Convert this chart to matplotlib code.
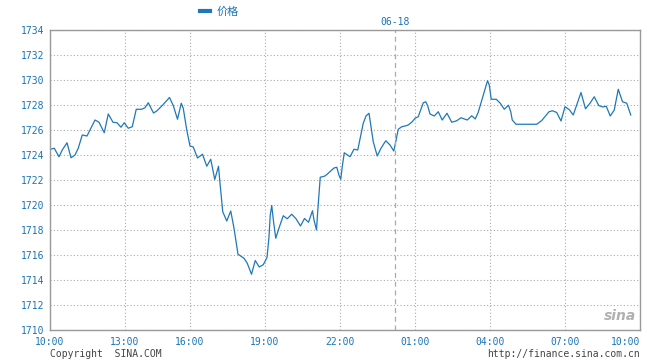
import matplotlib
matplotlib.use("Agg")
import matplotlib.pyplot as plt
from matplotlib.lines import Line2D

# x position in axis units (hours from the 10:00 tick, as laid out on the chart)
hours = [0.0, 0.17, 0.36, 0.49, 0.68, 0.84, 1.0, 1.13, 1.29, 1.48, 1.8, 1.96, 2.17, 2.33,
         2.52, 2.68, 2.84, 2.97, 3.13, 3.29, 3.45, 3.67, 3.8, 3.93, 4.14, 4.27, 4.51, 4.78,
         4.93, 5.1, 5.25, 5.33, 5.47, 5.6, 5.73, 5.9, 6.1, 6.27, 6.43, 6.59, 6.74, 6.8,
         6.91, 7.07, 7.23, 7.36, 7.52, 7.76, 7.89, 8.06, 8.21, 8.37, 8.53, 8.68, 8.76, 8.81,
         8.87, 8.93, 9.03, 9.17, 9.33, 9.49, 9.67, 9.84, 10.02, 10.18, 10.34, 10.5, 10.56,
         10.66, 10.71, 10.81, 11.0, 11.13, 11.36, 11.47, 11.56, 11.63, 11.69, 11.77, 12.0,
         12.16, 12.31, 12.4, 12.53, 12.64, 12.76, 12.87, 12.93, 13.09, 13.24, 13.43, 13.6,
         13.75, 13.83, 13.93, 14.07, 14.2, 14.33, 14.49, 14.6, 14.73, 14.87, 14.93, 15.03,
         15.11, 15.2, 15.37, 15.53, 15.69, 15.88, 16.07, 16.27, 16.44, 16.69, 16.87, 17.01,
         17.13, 17.31, 17.5, 17.57, 17.65, 17.85, 18.01, 18.17, 18.34, 18.43, 18.49, 18.64,
         19.47, 19.67, 19.96, 20.1, 20.27, 20.44, 20.6, 20.77, 20.93, 21.1, 21.24, 21.42,
         21.6, 21.77, 21.95, 22.11, 22.25, 22.41, 22.57, 22.73, 22.9, 23.07, 23.23]

price = [1724.45, 1724.54, 1723.86, 1724.4, 1724.98, 1723.78, 1724.0, 1724.54, 1725.6, 1725.52,
         1726.8, 1726.62, 1725.78, 1727.28, 1726.62, 1726.58, 1726.22, 1726.58, 1726.14, 1726.26,
         1727.66, 1727.66, 1727.78, 1728.18, 1727.36, 1727.52, 1728.0, 1728.6, 1727.96, 1726.86,
         1728.14, 1727.74, 1726.0, 1724.72, 1724.64, 1723.76, 1724.06, 1723.1, 1723.66, 1722.04,
         1723.1, 1721.74, 1719.46, 1718.72, 1719.52, 1718.14, 1716.06, 1715.74, 1715.34, 1714.46,
         1715.56, 1715.04, 1715.22, 1715.8, 1717.46, 1719.2, 1719.96, 1718.86, 1717.34, 1718.22,
         1719.14, 1718.9, 1719.26, 1718.9, 1718.32, 1718.92, 1718.62, 1719.54, 1718.8, 1718.0,
         1719.54, 1722.22, 1722.32, 1722.54, 1722.96, 1723.02, 1722.38, 1722.06, 1723.06, 1724.18,
         1723.86, 1724.46, 1724.4, 1725.28, 1726.54, 1727.12, 1727.34, 1725.86, 1725.06, 1723.92,
         1724.54, 1725.14, 1724.8, 1724.32, 1725.06, 1726.06, 1726.26, 1726.32, 1726.4, 1726.66,
         1726.94, 1727.06, 1727.86, 1728.18, 1728.26, 1727.92, 1727.28, 1727.12, 1727.46, 1726.8,
         1727.34, 1726.62, 1726.74, 1726.98, 1726.8, 1727.14, 1726.88, 1727.42, 1728.66, 1729.94,
         1729.6, 1728.46, 1728.46, 1728.14, 1727.66, 1727.98, 1727.46, 1726.8, 1726.46, 1726.46,
         1726.76, 1727.46, 1727.54, 1727.4, 1726.72, 1727.86, 1727.63, 1727.2, 1728.2, 1729.0,
         1727.7, 1728.14, 1728.66, 1727.96, 1727.84, 1727.9, 1727.12, 1727.6, 1729.26, 1728.26,
         1728.14, 1727.2]

tick_pos = [0, 3, 5.6, 8.6, 11.6, 14.6, 17.6, 20.6, 23.6]
tick_labels = ["10:00", "13:00", "16:00", "19:00", "22:00", "01:00", "04:00", "07:00", "10:00"]
day_break = 13.8
day_label = "06-18"
y_ticks = list(range(1710, 1735, 2))

blue = "#1a74b8"
line_blue = "#1f78b8"
mono = "DejaVu Sans Mono"

fig = plt.figure(figsize=(6.6, 3.6), dpi=100)
ax = fig.add_axes([50 / 660, 30 / 360, 590 / 660, 300 / 360])

ax.plot(hours, price, color=line_blue, linewidth=0.9)
ax.set_xlim(0, 23.6)
ax.set_ylim(1710, 1734)

ax.set_yticks(y_ticks)
ax.set_yticklabels([str(v) for v in y_ticks], fontfamily=mono, fontsize=7, color=blue)
ax.set_xticks(tick_pos)
ax.set_xticklabels(tick_labels, fontfamily=mono, fontsize=7, color=blue)
ax.get_xticklabels()[-1].set_horizontalalignment("right")
ax.tick_params(axis="both", length=0)
ax.tick_params(axis="y", pad=4)
ax.tick_params(axis="x", pad=5)

ax.grid(True, color="#aaaaaa", linestyle=(0, (1, 2)), linewidth=0.8)
ax.axvline(day_break, color="#aaaaaa", linestyle=(0, (4, 3)), linewidth=0.9)
for s in ax.spines.values():
    s.set_color("#999999")
    s.set_linewidth(1)

# legend: short thick dash + name
leg = fig.legend(handles=[Line2D([], [], color=line_blue, linewidth=3)], labels=["价格"],
                 loc="center left", bbox_to_anchor=(194 / 660, 1 - 12 / 360), frameon=False,
                 handlelength=0.9, handletextpad=0.6, borderpad=0,
                 prop={"family": ["Noto Sans CJK SC", "DejaVu Sans"], "size": 8})
for t in leg.get_texts():
    t.set_color(blue)

fig.text(395 / 660, 1 - 22 / 360, day_label, color=blue, fontsize=7, fontfamily=mono,
         ha="center", va="center")
fig.text(50 / 660, 1 - 354 / 360, "Copyright  SINA.COM", color="#444444", fontsize=7,
         fontfamily=mono, ha="left", va="center")
fig.text(640 / 660, 1 - 354 / 360, "http://finance.sina.com.cn", color="#444444", fontsize=7,
         fontfamily=mono, ha="right", va="center")
fig.text(620 / 660, 1 - 316 / 360, "sina", color="#b0b0b0", fontsize=10, fontweight="bold",
         style="italic", ha="center", va="center", fontfamily="DejaVu Sans")

fig.savefig("out.png", dpi=100)
